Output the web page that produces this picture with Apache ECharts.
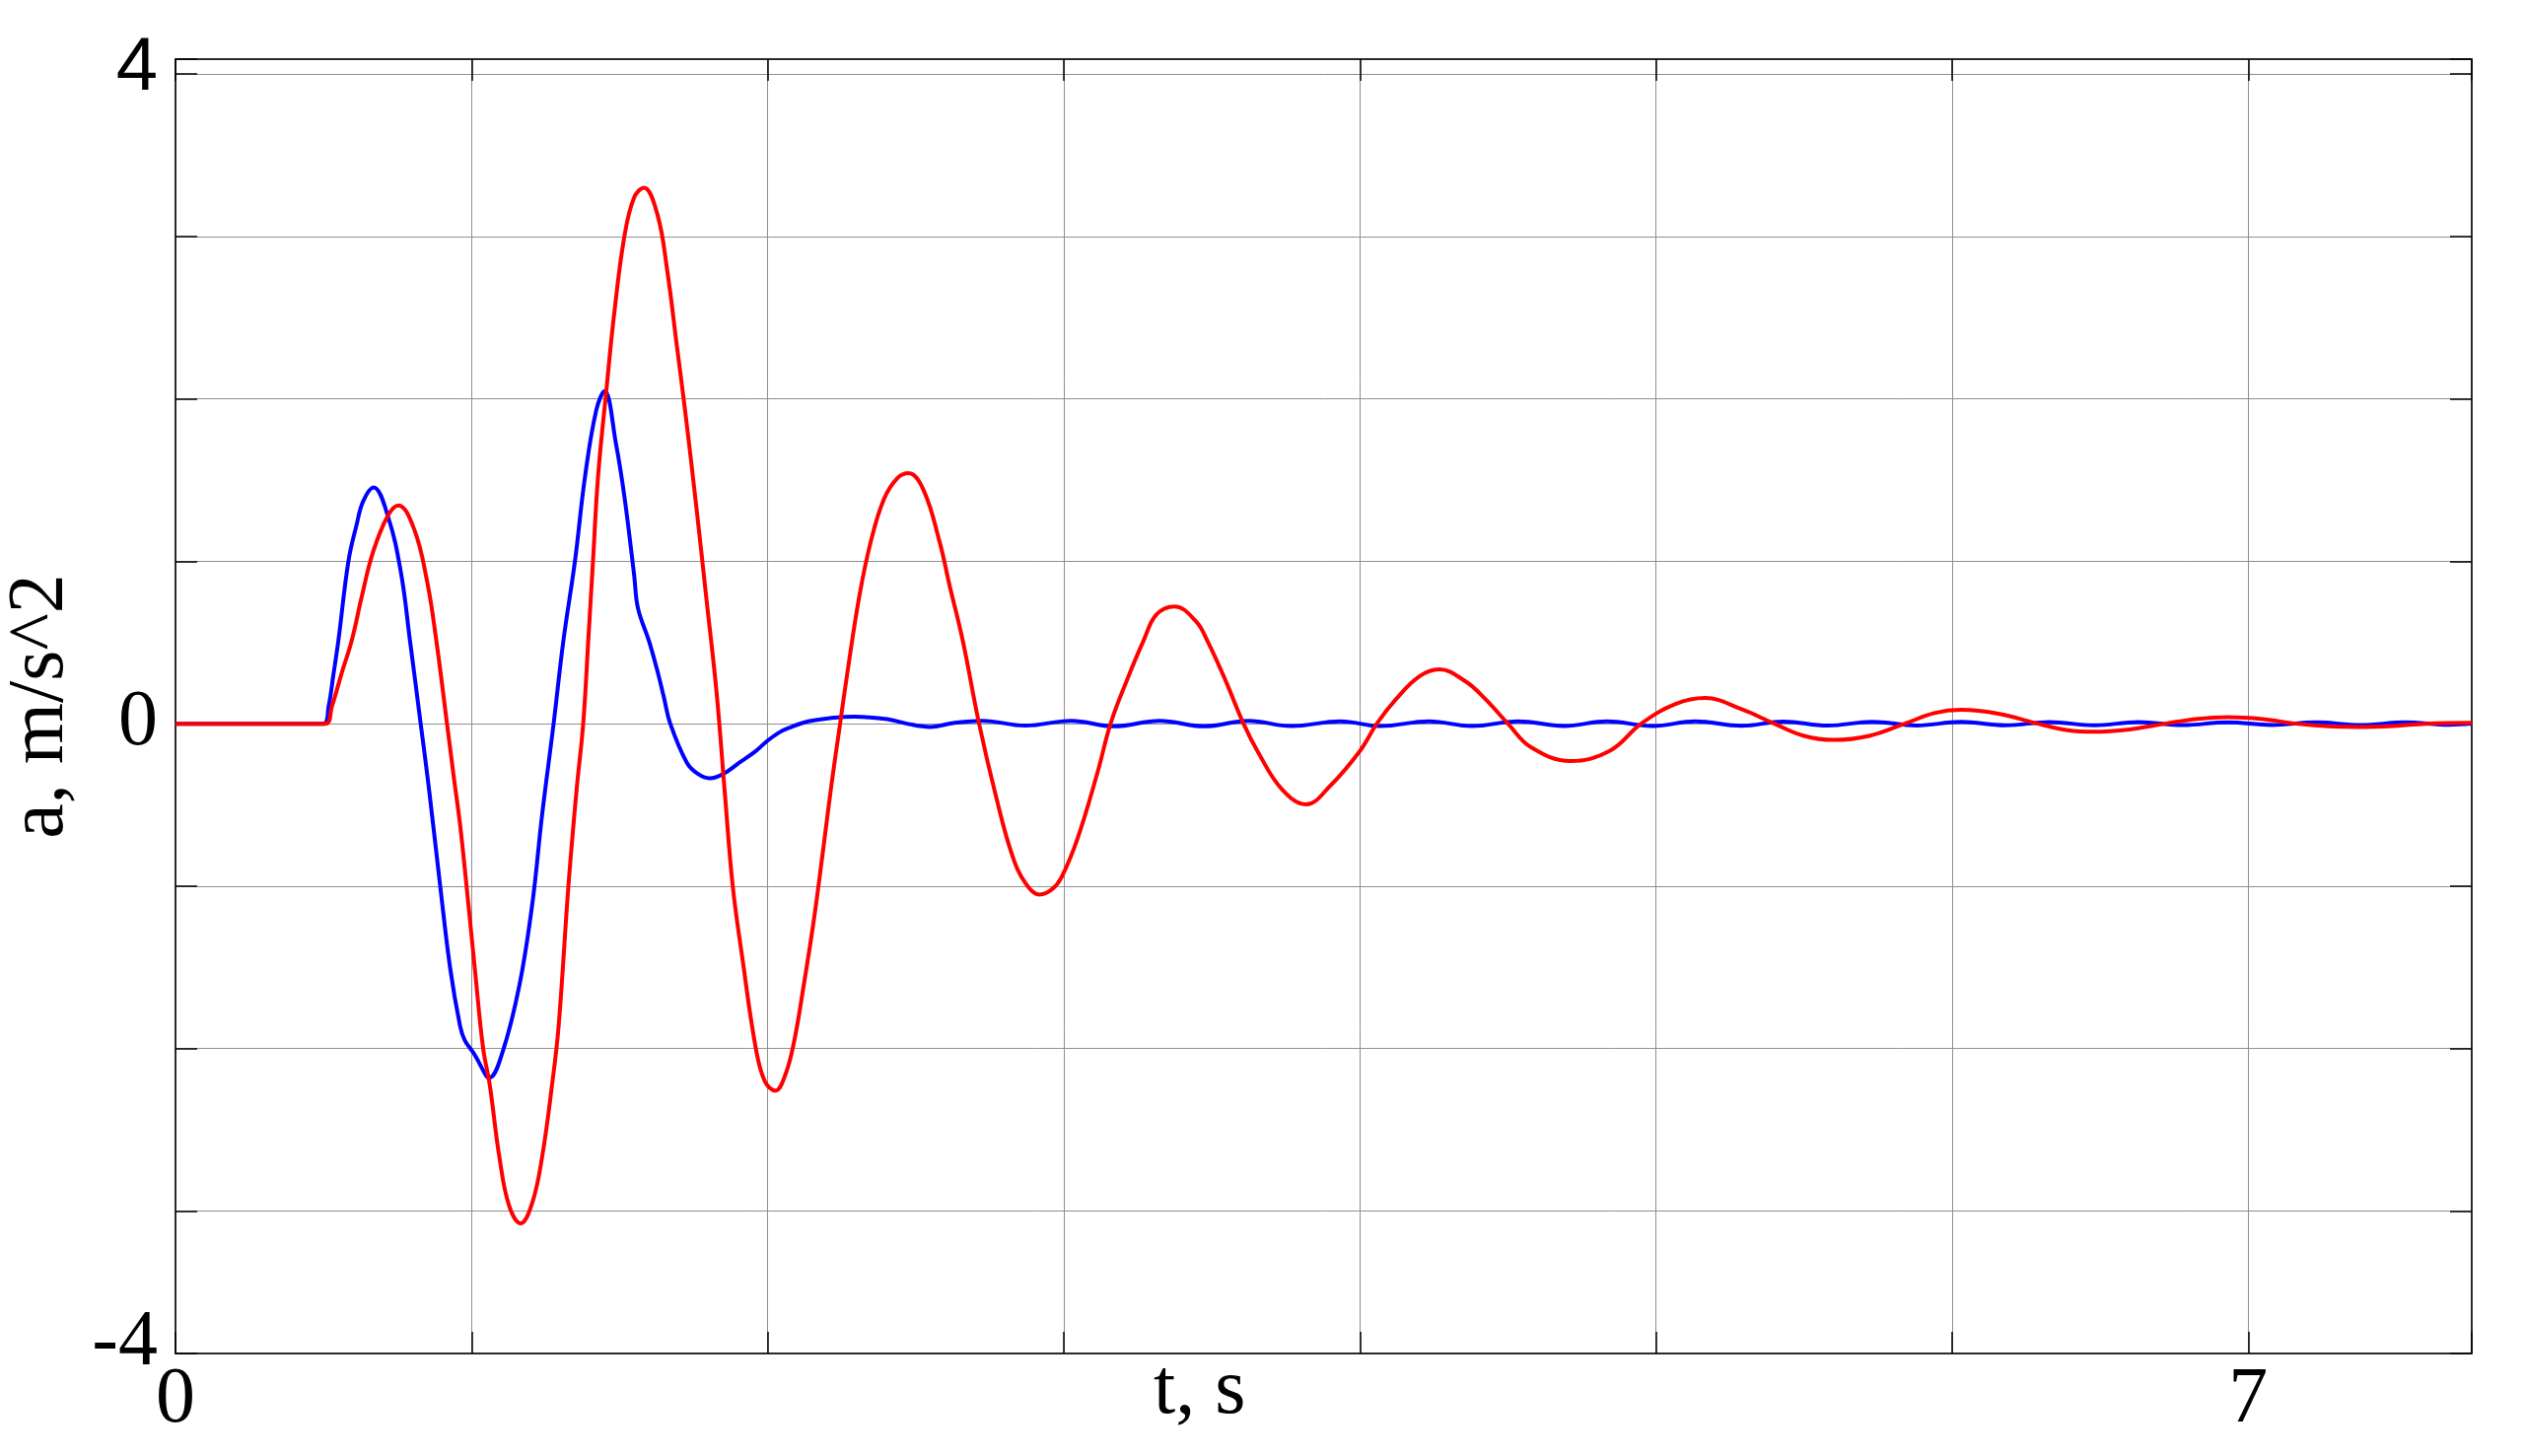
<!DOCTYPE html>
<html>
<head>
<meta charset="utf-8">
<script src="https://cdn.jsdelivr.net/npm/echarts@6/dist/echarts.min.js"></script>
<style>
  html, body { margin: 0; padding: 0; background: #fff; }
  #chart { width: 2559px; height: 1477px; }
</style>
</head>
<body>
<div id="chart"></div>
<script>
// axis limits (frame edges of the original plot)
const xMin = 0;
const xMax = 7.755;
const yMin = -3.878;
const yMax = 4.092;

// tick labels shown in the picture
const xTickLabels = { 0: '0', 7: '7' };
const yTickLabels = { min: '-4', zero: '0', max: '4' };

// blue curve, t [s] and a [m/s^2]
const tBlue = [0, 0.5, 0.517, 0.534, 0.55, 0.584, 0.611, 0.634, 0.669, 0.717, 0.761, 0.792,
  0.828, 0.856, 0.894, 0.928, 0.961, 0.977, 1.011, 1.05, 1.06, 1.105, 1.161, 1.205, 1.238,
  1.277, 1.31, 1.349, 1.383, 1.421, 1.449, 1.488, 1.516, 1.549, 1.562, 1.599, 1.627, 1.649,
  1.671, 1.727, 1.765, 1.804, 1.849, 1.904, 1.96, 1.998, 2.037, 2.071, 2.137, 2.215, 2.293,
  2.404, 2.47, 2.548, 2.626, 2.725, 2.87, 3.025, 3.169, 3.324, 3.474, 3.624, 3.768, 3.935,
  4.068, 4.234, 4.379, 4.534, 4.689, 4.834, 4.989, 5.133, 5.289, 5.43, 5.58, 5.73, 5.88,
  6.03, 6.18, 6.33, 6.48, 6.63, 6.78, 6.93, 7.08, 7.23, 7.38, 7.53, 7.68, 7.755];
const aBlue = [0, 0, 0.105, 0.31, 0.51, 1.0, 1.22, 1.37, 1.455, 1.28, 0.935, 0.51,
  0, -0.40, -1.0, -1.51, -1.86, -1.95, -2.04, -2.17, -2.18, -2.02, -1.615, -1.11, -0.563,
  0, 0.51, 1.0, 1.52, 1.93, 2.048, 1.72, 1.40, 0.915, 0.71, 0.51, 0.328, 0.166,
  0, -0.24, -0.31, -0.336, -0.31, -0.24, -0.168, -0.107, -0.056, -0.026, 0.014, 0.035, 0.044,
  0.028, 0, -0.02, 0.004, 0.018, -0.012, 0.018, -0.016, 0.018, -0.016, 0.018, -0.015, 0.015,
  -0.015, 0.015, -0.015, 0.015, -0.014, 0.014, -0.014, 0.014, -0.013, 0.013, -0.012, 0.012, -0.011,
  0.011, -0.01, 0.01, -0.01, 0.01, -0.009, 0.009, -0.008, 0.008, -0.008, 0.008, -0.007, 0];

// red curve, t [s] and a [m/s^2]
const tRed = [0, 0.505, 0.528, 0.561, 0.595, 0.63, 0.667, 0.717, 0.753, 0.806, 0.85, 0.881,
  0.917, 0.94, 0.961, 0.983, 1.011, 1.039, 1.061, 1.094, 1.127, 1.166, 1.205, 1.238, 1.272,
  1.294, 1.327, 1.355, 1.377, 1.394, 1.41, 1.427, 1.455, 1.482, 1.516, 1.549, 1.582, 1.627,
  1.66, 1.693, 1.721, 1.76, 1.793, 1.827, 1.855, 1.882, 1.915, 1.96, 1.99, 2.026, 2.06,
  2.09, 2.12, 2.155, 2.187, 2.215, 2.243, 2.268, 2.309, 2.348, 2.392, 2.437, 2.476, 2.526,
  2.581, 2.614, 2.659, 2.714, 2.77, 2.825, 2.87, 2.919, 2.96, 2.992, 3.047, 3.114, 3.158,
  3.213, 3.269, 3.313, 3.374, 3.446, 3.485, 3.546, 3.607, 3.657, 3.735, 3.818, 3.901,
  4.001, 4.057, 4.123, 4.201, 4.268, 4.357, 4.423, 4.5, 4.578, 4.711, 4.845, 4.95, 5.066,
  5.166, 5.289, 5.4, 5.5, 5.6, 5.72, 5.84, 5.94, 6.03, 6.16, 6.29, 6.39, 6.48, 6.6, 6.72,
  6.83, 6.93, 7.05, 7.16, 7.27, 7.37, 7.49, 7.6, 7.755];
const aRed = [0, 0, 0.105, 0.31, 0.51, 0.79, 1.056, 1.28, 1.344, 1.198, 0.874, 0.51,
  0, -0.33, -0.62, -1.0, -1.51, -2.0, -2.22, -2.67, -2.97, -3.077, -2.95, -2.67, -2.22,
  -1.86, -1.0, -0.40, 0, 0.51, 1.0, 1.52, 2.05, 2.53, 3.0, 3.24, 3.30, 3.14,
  2.80, 2.33, 1.93, 1.32, 0.77, 0.2, -0.42, -1.0, -1.45, -2.0, -2.2, -2.26, -2.16,
  -1.95, -1.63, -1.22, -0.78, -0.38, -0.02, 0.3, 0.78, 1.12, 1.38, 1.51, 1.542, 1.44,
  1.117, 0.854, 0.51, 0, -0.44, -0.806, -0.98, -1.052, -1.02, -0.947, -0.704, -0.30, 0,
  0.267, 0.51, 0.672, 0.722, 0.631, 0.51, 0.267, 0, -0.178, -0.40, -0.497, -0.38,
  -0.166, 0, 0.153, 0.291, 0.334, 0.26, 0.153, 0, -0.145, -0.23, -0.166, 0, 0.121,
  0.158, 0.089, 0, -0.075, -0.10, -0.075, 0, 0.065, 0.085, 0.06, 0, -0.04, -0.05, -0.035, 0,
  0.03, 0.04, 0.028, 0, -0.016, -0.02, -0.014, 0, 0.005];

const serif = 'Liberation Serif';
const frameColor = '#2a2a2a';
const gridColor = '#8f8f8f';

function pairs(xs, ys) {
  return xs.map((x, i) => [x, ys[i]]);
}

const chart = echarts.init(document.getElementById('chart'));

const tickStyle = {
  show: true,
  inside: true,
  length: 22,
  lineStyle: { color: '#000', width: 1.5 }
};

const option = {
  animation: false,
  backgroundColor: '#fff',
  grid: {
    left: 178,
    right: 52,
    top: 60,
    bottom: 104,
    containLabel: false,
    outerBoundsMode: 'none'
  },
  xAxis: [
    {
      type: 'value',
      min: xMin,
      max: xMax,
      interval: 1,
      axisLine: { show: true, onZero: false, lineStyle: { color: frameColor, width: 2 } },
      axisTick: tickStyle,
      splitLine: { show: true, lineStyle: { color: gridColor, width: 1 } },
      axisLabel: {
        show: true,
        interval: 0,
        showMinLabel: true,
        showMaxLabel: true,
        margin: 8,
        color: '#000',
        fontFamily: serif,
        fontSize: 80,
        formatter: function (v) {
          const k = Math.round(v);
          if (Math.abs(v - k) < 1e-6 && xTickLabels[k] !== undefined) return xTickLabels[k];
          return '';
        }
      }
    },
    {
      type: 'value',
      position: 'top',
      min: xMin,
      max: xMax,
      interval: 1,
      axisLine: { show: true, onZero: false, lineStyle: { color: frameColor, width: 2 } },
      axisTick: tickStyle,
      splitLine: { show: false },
      axisLabel: { show: false }
    }
  ],
  yAxis: [
    {
      type: 'value',
      min: yMin,
      max: yMax,
      splitNumber: 8,
      name: 'a, m/s^2',
      nameLocation: 'middle',
      nameGap: 92,
      nameRotate: 90,
      nameTextStyle: { color: '#000', fontFamily: serif, fontSize: 80 },
      axisLine: { show: true, onZero: false, lineStyle: { color: frameColor, width: 2 } },
      axisTick: tickStyle,
      splitLine: { show: true, lineStyle: { color: gridColor, width: 1 } },
      axisLabel: {
        show: true,
        interval: 0,
        showMinLabel: true,
        showMaxLabel: true,
        margin: 18,
        color: '#000',
        fontFamily: serif,
        fontSize: 80,
        formatter: function (v) {
          if (Math.abs(v - yMax) < 1e-6) return '{top|' + yTickLabels.max + '}';
          if (Math.abs(v - yMin) < 1e-6) return '{bot|' + yTickLabels.min + '}';
          if (Math.abs(v) < 1e-6) return yTickLabels.zero;
          return '';
        },
        rich: {
          top: { fontFamily: 'Liberation Sans', fontSize: 76, color: '#000', padding: [20, 0, 0, 0] },
          bot: { fontFamily: serif, fontSize: 80, color: '#000', padding: [0, 0, 20, 0] }
        }
      }
    },
    {
      type: 'value',
      position: 'right',
      min: yMin,
      max: yMax,
      splitNumber: 8,
      axisLine: { show: true, onZero: false, lineStyle: { color: frameColor, width: 2 } },
      axisTick: tickStyle,
      splitLine: { show: false },
      axisLabel: { show: false }
    }
  ],
  graphic: [
    {
      type: 'text',
      left: 1170,
      top: 1372,
      style: {
        text: 't, s',
        fill: '#000',
        font: '80px "Liberation Serif"'
      }
    }
  ],
  series: [
    {
      name: 'blue',
      type: 'line',
      xAxisIndex: 0,
      yAxisIndex: 0,
      data: pairs(tBlue, aBlue),
      showSymbol: false,
      smooth: 0.4,
      lineStyle: { color: '#0000ff', width: 4 },
      z: 2
    },
    {
      name: 'red',
      type: 'line',
      xAxisIndex: 0,
      yAxisIndex: 0,
      data: pairs(tRed, aRed),
      showSymbol: false,
      smooth: 0.4,
      lineStyle: { color: '#ff0000', width: 4 },
      z: 3
    }
  ]
};

chart.setOption(option);
</script>
</body>
</html>
